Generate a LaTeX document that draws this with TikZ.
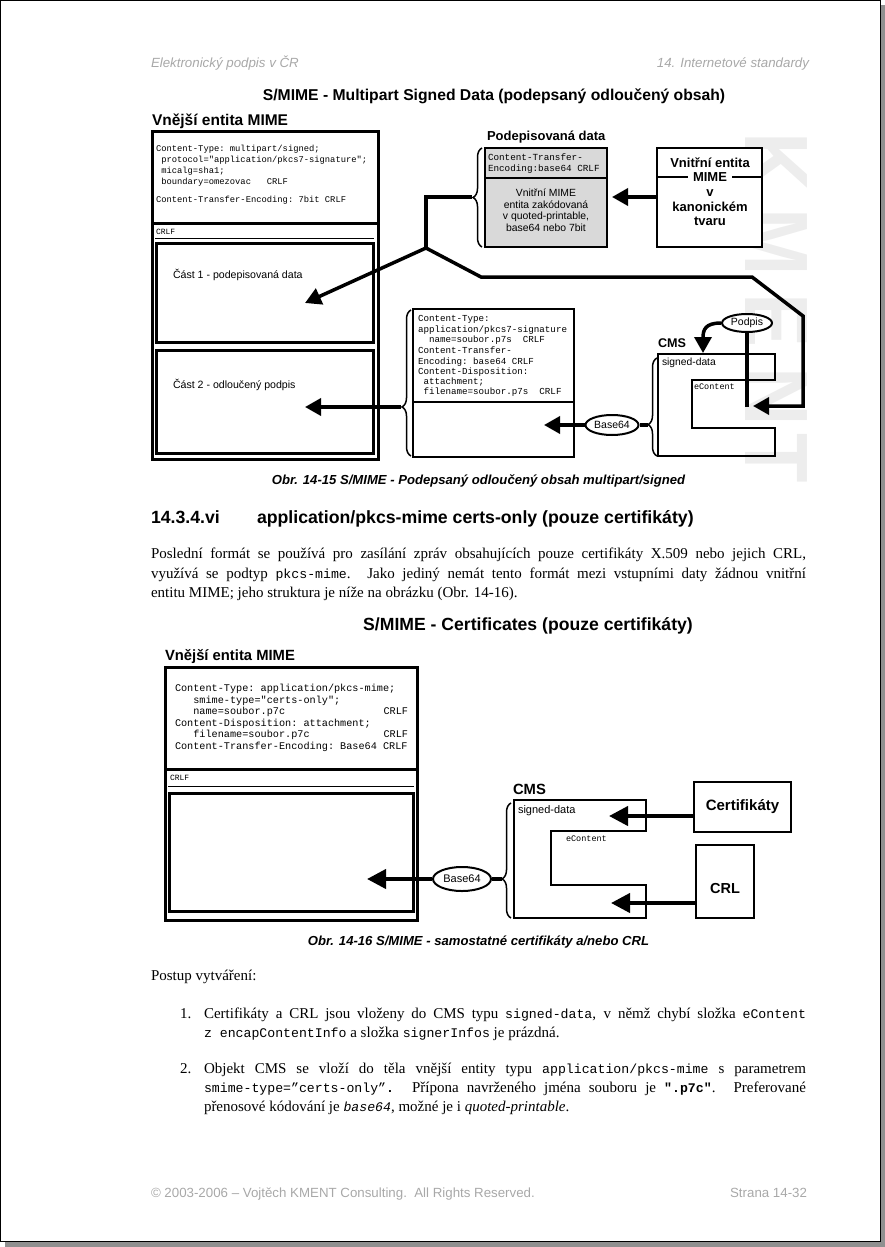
\documentclass[tikz,border=0pt]{standalone}
\usepackage{fontspec}
\setmainfont{Liberation Serif}
\setsansfont{Liberation Sans}
\setmonofont{Liberation Mono}
\usetikzlibrary{arrows.meta,decorations.pathreplacing,shapes.geometric}
\newcommand\FS[1]{\fontsize{#1pt}{#1pt}\selectfont}
\newcommand\tx[1]{{\ttfamily\fontsize{13.2pt}{15pt}\selectfont #1}}
\definecolor{hdrgray}{HTML}{A8A8A8}
\definecolor{boxgray}{HTML}{D9D9D9}
\definecolor{wmgray}{HTML}{EDEDED}
\definecolor{shadowgray}{HTML}{909090}
\tikzset{
  T/.style={inner sep=0pt, outer sep=0pt},
  hdr/.style={T, font=\sffamily\itshape\FS{13.3}, text=hdrgray},
  ftr/.style={T, font=\sffamily\FS{13.3}, text=hdrgray},
  ttl/.style={T, font=\sffamily\bfseries\FS{#1}},
  sans/.style={T, font=\sffamily\FS{#1}},
  mono/.style={T, font=\ttfamily\FS{#1}},
  body/.style={T, font=\rmfamily\FS{15}},
  capt/.style={T, font=\sffamily\bfseries\itshape\FS{13.1}},
  wm/.style={T, font=\sffamily\bfseries\FS{90}, text=wmgray, rotate=-90, xscale=0.9},
  frameA/.style={draw, line width=3pt},
  frameB/.style={draw, line width=2pt},
  thinln/.style={line width=1pt},
  conn/.style={line width=3.5pt},
  arr/.style={line width=3.5pt, -{Triangle[length=16pt,width=17pt]}},
  connB/.style={line width=4pt},
  arrB/.style={line width=4pt, -{Triangle[length=19pt,width=19pt]}},
  brc/.style={decorate, decoration={brace, amplitude=9pt, aspect=#1}, line width=1.5pt},
  ell/.style={draw, ellipse, line width=2pt, inner sep=0pt, fill=white},
  boxn/.style={draw, line width=2.5pt, inner sep=0pt, fill=white},
}
\begin{document}
\begin{tikzpicture}[x=1pt,y=-1pt]
\useasboundingbox (0,0) rectangle (885,1247);
% page shadow and frame
\fill[shadowgray] (5,1242) rectangle (885,1247);
\fill[shadowgray] (881,5) rectangle (885,1247);
\draw[line width=1pt] (0.5,0.5) rectangle (880.5,1241.5);
% watermark
\node[wm] (wmK) at (776,162) {K};
\node[wm] (wmM) at (776,242) {M};
\node[wm] (wmE) at (776,321) {E};
\node[wm] (wmN) at (776,397) {N};
\node[wm] (wmT) at (776,458) {T};
% header
\node[hdr, anchor=base west] (hL) at (151,67.5) {Elektronický podpis v ČR};
\node[hdr, anchor=base east] (hR) at (809,67.5) {14. Internetové standardy};

% ===== Diagram 1 =====
\node[ttl=15.7, anchor=base] (title1) at (494,100) {S/MIME - Multipart Signed Data (podepsaný odloučený obsah)};
\node[ttl=15.5, anchor=base west] (ve1) at (152,125.5) {Vnější entita MIME};
\draw[frameA] (152,131) rectangle (378,459);
\node[mono=8.8, anchor=base west] (h1a) at (156,151) {Content-Type:~multipart/signed;};
\node[mono=8.8, anchor=base west] (h1b) at (156,162) {~protocol="application/pkcs7-signature";};
\node[mono=8.8, anchor=base west] (h1c) at (156,173) {~micalg=sha1;};
\node[mono=8.8, anchor=base west] (h1d) at (156,184) {~boundary=omezovac~~~CRLF};
\node[mono=8.8, anchor=base west] (h1e) at (156,202) {Content-Transfer-Encoding:~7bit~CRLF};
\draw[line width=3pt] (152,223) -- (378,223);
\node[mono=8, anchor=base west] (crlf1) at (156,234) {CRLF};
\draw[thinln] (155,238) -- (374,238);
\draw[frameA] (156,243) rectangle (373,342);
\draw[frameA] (156,350) rectangle (373,453);
\node[sans=10.6, anchor=base west] (c1) at (173,278.7) {Část 1 - podepisovaná data};
\node[sans=10.6, anchor=base west] (c2) at (173,388.7) {Část 2 - odloučený podpis};

% connectors from the junction
\coordinate (J) at (426,248);
\coordinate (tipA) at (305,303);
\coordinate (hookUp) at (426,197);
\coordinate (braceP) at (472,197);
\coordinate (L1) at (481,277);
\coordinate (L2) at (752,277);
\coordinate (L3) at (803,316);
\coordinate (L4) at (803,406);
\coordinate (tipL) at (753,406);
\draw[conn, line join=miter] (J) -- (hookUp) -- (braceP);
\draw[arr] (J) -- (tipA);
\draw[arr, line join=miter] (J) -- (L1) -- (L2) -- (L3) -- (L4) -- (tipL);

% signed data box
\node[ttl=13, anchor=base west] (podl) at (487,140.5) {Podepisovaná data};
\draw[frameB, fill=boxgray] (485,148) rectangle (607,247);
\draw[line width=1.5pt] (485,178) -- (607,178);
\node[mono=9.3, anchor=base west] (ph1) at (488,160) {Content-Transfer-};
\node[mono=9.3, anchor=base west] (ph2) at (488,171) {Encoding:base64~CRLF};
\node[sans=10.4, anchor=base] (pb1) at (546,196.6) {Vnitřní MIME};
\node[sans=10.4, anchor=base] (pb2) at (546,208.1) {entita zakódovaná};
\node[sans=10.4, anchor=base] (pb3) at (546,219.6) {v quoted-printable,};
\node[sans=10.4, anchor=base] (pb4) at (546,231.1) {base64 nebo 7bit};
\draw[brc=0.5] (482,247) -- (482,148);

% inner entity box
\draw[frameB, fill=white] (657,148) rectangle (762,247);
\draw[line width=1.5pt] (657,177) -- (762,177);
\node[ttl=13, anchor=base] (vn1) at (710,167.5) {Vnitřní entita};
\node[ttl=13, anchor=base, fill=white, inner xsep=5pt] (vn2) at (710,181.5) {MIME};
\node[ttl=13, anchor=base] (vn3) at (710,196.5) {v};
\node[ttl=13, anchor=base] (vn4) at (710,211.5) {kanonickém};
\node[ttl=13, anchor=base] (vn5) at (710,225.5) {tvaru};
\coordinate (vnL) at (657,197);
\coordinate (tipV) at (612,197);
\draw[arr] (vnL) -- (tipV);

% signature part box
\draw[frameB] (413,309) rectangle (574,457);
\draw[line width=2pt] (413,402) -- (574,402);
\node[mono=9.2, anchor=base west] (s1) at (418,321) {Content-Type:};
\node[mono=9.2, anchor=base west] (s2) at (418,332) {application/pkcs7-signature};
\node[mono=9.2, anchor=base west] (s3) at (418,342) {~~name=soubor.p7s~~CRLF};
\node[mono=9.2, anchor=base west] (s4) at (418,353) {Content-Transfer-};
\node[mono=9.2, anchor=base west] (s5) at (418,364) {Encoding:~base64~CRLF};
\node[mono=9.2, anchor=base west] (s6) at (418,374) {Content-Disposition:};
\node[mono=9.2, anchor=base west] (s7) at (418,384) {~attachment;};
\node[mono=9.2, anchor=base west] (s8) at (418,394) {~filename=soubor.p7s~~CRLF};
\draw[brc=0.336] (411,456) -- (411,310);
\coordinate (sigBr) at (401,407);
\coordinate (tipC2) at (305,407);
\draw[arr] (sigBr) -- (tipC2);

% Base64 (1)
\node[ell, minimum width=53pt, minimum height=20pt, font=\sffamily\FS{10.5}] (b64a) at (612,425) {Base64};
\coordinate (tipB1) at (544,425);
\coordinate (cmsBr1) at (648,425);
\draw[arr] (b64a.west) -- (tipB1);
\draw[conn] (b64a.east) -- (cmsBr1);

% CMS (1)
\node[ttl=12.6, anchor=base west] (cms1) at (658,347.5) {CMS};
\draw[frameB, line join=miter] (658,354) -- (775,354) -- (775,380) -- (692,380) -- (692,428) -- (775,428) -- (775,456) -- (658,456) -- cycle;
\draw[brc=0.32] (657,456) -- (657,358);
\node[sans=10.3, anchor=base west] (sd1) at (662,365.6) {signed-data};
\node[mono=8.5, anchor=base west] (ec1) at (694,389.8) {eContent};

% Podpis
\node[ell, minimum width=50pt, minimum height=18pt, font=\sffamily\FS{10.5}] (podpis) at (747,323) {Podpis};
\coordinate (tipP) at (703,353);
\coordinate (podEnd) at (747,407);
\draw[arr] (podpis.west) .. controls (705,323) and (703,330) .. (tipP);
\draw[conn] (podpis.south) -- (podEnd);

\node[capt, anchor=base] (cap1) at (478.5,484.6) {Obr. 14-15 S/MIME - Podepsaný odloučený obsah multipart/signed};

% ===== Heading and paragraph =====
\node[ttl=17.7, anchor=base west] (hnum) at (151,523.2) {14.3.4.vi};
\node[ttl=17.7, anchor=base west] (htxt) at (257,523.2) {application/pkcs-mime certs-only (pouze certifikáty)};
\node[body, anchor=base west] (p1) at (151,558) {\makebox[655pt][s]{Poslední formát se používá pro zasílání zpráv obsahujících pouze certifikáty X.509 nebo jejich CRL,}};
\node[body, anchor=base west] (p2) at (151,578) {\makebox[655pt][s]{využívá se podtyp \tx{pkcs-mime}. Jako jediný nemát tento formát mezi vstupními daty žádnou vnitřní}};
\node[body, anchor=base west] (p3) at (151,597) {entitu MIME; jeho struktura je níže na obrázku (Obr. 14-16).};

% ===== Diagram 2 =====
\node[ttl=17.6, anchor=base] (title2) at (528,630.2) {S/MIME - Certificates (pouze certifikáty)};
\node[ttl=14.8, anchor=base west] (ve2) at (165,660.2) {Vnější entita MIME};
\draw[frameA] (165,667) rectangle (417,920);
\node[mono=10.2, anchor=base west] (m1) at (175,691.4) {Content-Type:~application/pkcs-mime;};
\node[mono=10.2, anchor=base west] (m2) at (175,703.4) {~~~smime-type="certs-only";};
\node[mono=10.2, anchor=base west] (m3) at (175,714.4) {~~~name=soubor.p7c};
\node[mono=10.2, anchor=base east] (m3r) at (408,714.4) {CRLF};
\node[mono=10.2, anchor=base west] (m4) at (175,726.4) {Content-Disposition:~attachment;};
\node[mono=10.2, anchor=base west] (m5) at (175,737.4) {~~~filename=soubor.p7c};
\node[mono=10.2, anchor=base east] (m5r) at (408,737.4) {CRLF};
\node[mono=10.2, anchor=base west] (m6) at (175,749.4) {Content-Transfer-Encoding:~Base64~CRLF};
\draw[line width=3pt] (165,769) -- (417,769);
\node[mono=8, anchor=base west] (crlf2) at (170,780.6) {CRLF};
\draw[thinln] (168,786) -- (414,786);
\draw[frameA] (169,793) rectangle (413,911);

\node[ell, minimum width=58pt, minimum height=24pt, font=\sffamily\FS{11}] (b64b) at (462,879) {Base64};
\coordinate (tipB2) at (367,879);
\coordinate (cmsBr2) at (502,879);
\draw[arrB] (b64b.west) -- (tipB2);
\draw[connB] (b64b.east) -- (cmsBr2);
\draw[brc=0.34] (511,918) -- (511,803);

\node[ttl=14.8, anchor=base west] (cms2) at (513,794.2) {CMS};
\draw[frameB, line join=miter] (514,800) -- (646,800) -- (646,831) -- (551,831) -- (551,885) -- (646,885) -- (646,918) -- (514,918) -- cycle;
\node[sans=11, anchor=base west] (sd2) at (518,813.8) {signed-data};
\node[mono=8.5, anchor=base west] (ec2) at (566,841.8) {eContent};

\node[boxn, minimum width=97pt, minimum height=50pt, font=\sffamily\bfseries\FS{15}] (cert) at (742.5,807) {Certifikáty};
\coordinate (tipCe) at (609,816);
\draw[arrB] (cert.west |- tipCe) -- (tipCe);
\node[boxn, minimum width=58pt, minimum height=73pt] (crl) at (725,881.5) {};
\node[ttl=14.5, anchor=base] (crlt) at (725,893.2) {CRL};
\coordinate (tipCr) at (611,903);
\draw[arrB] (crl.west |- tipCr) -- (tipCr);

\node[capt, anchor=base] (cap2) at (478.5,945.6) {Obr. 14-16 S/MIME - samostatné certifikáty a/nebo CRL};

% ===== List =====
\node[body, anchor=base west] (post) at (151,980) {Postup vytváření:};
\node[body, anchor=base west] (n1) at (180,1018) {1.};
\node[body, anchor=base west] (i1a) at (204,1018) {\makebox[602pt][s]{Certifikáty a CRL jsou vloženy do CMS typu \tx{signed-data}, v němž chybí složka \tx{eContent}}};
\node[body, anchor=base west] (i1b) at (204,1037) {\tx{z encapContentInfo} a složka \tx{signerInfos} je prázdná.};
\node[body, anchor=base west] (n2) at (180,1073) {2.};
\node[body, anchor=base west] (i2a) at (204,1073) {\makebox[602pt][s]{Objekt CMS se vloží do těla vnější entity typu \tx{application/pkcs-mime} s parametrem}};
\node[body, anchor=base west] (i2b) at (204,1092) {\makebox[602pt][s]{\tx{smime-type=”certs-only”}\textbf{\tx{.}} Přípona navrženého jména souboru je \textbf{\tx{".p7c"}}. Preferované}};
\node[body, anchor=base west] (i2c) at (204,1111) {přenosové kódování je \textit{\tx{base64}}, možné je i \textit{quoted-printable}.};

% footer
\node[ftr, anchor=base west] (fL) at (151,1197.7) {© 2003-2006 – Vojtěch KMENT Consulting.\ \ All Rights Reserved.};
\node[ftr, anchor=base east] (fR) at (807,1197.7) {Strana 14-32};
\end{tikzpicture}
\end{document}
